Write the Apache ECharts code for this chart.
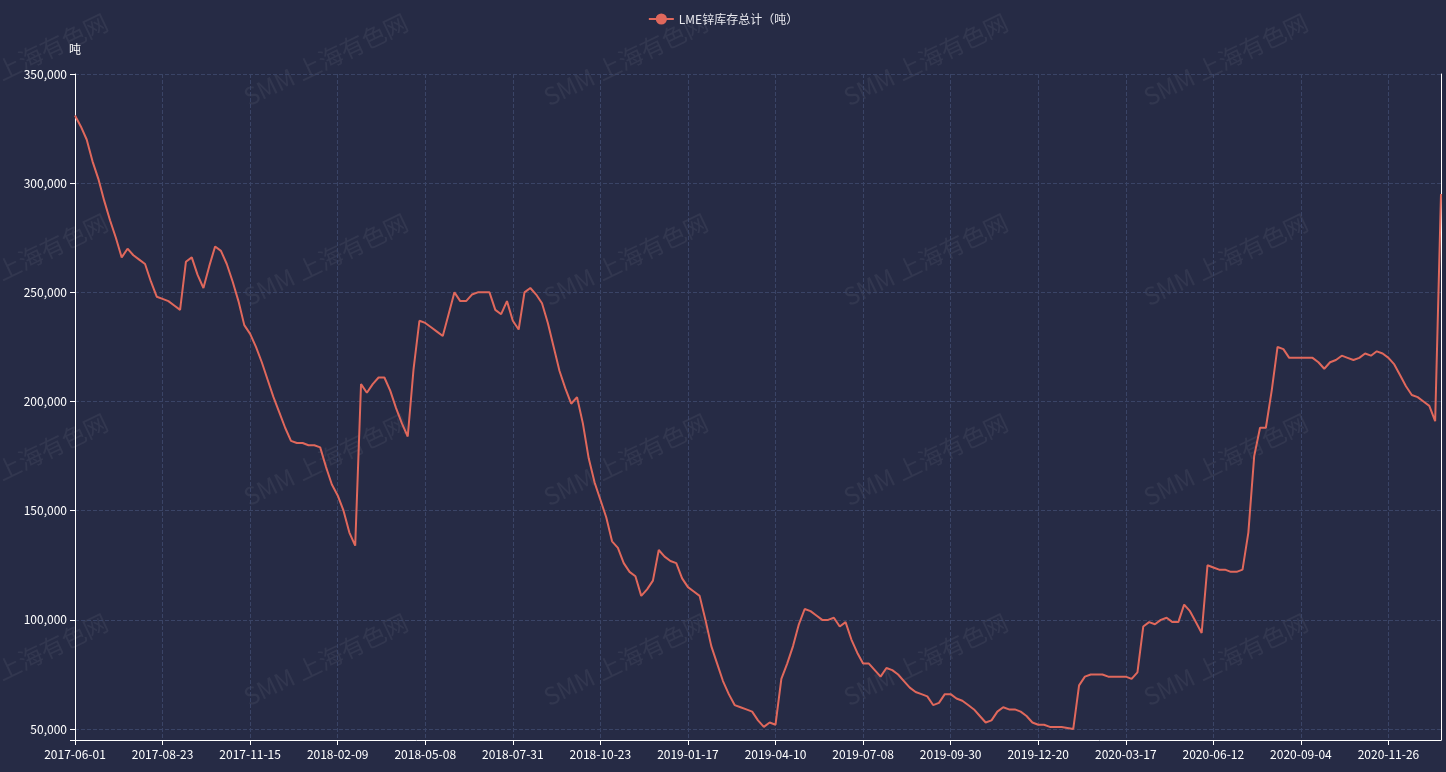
<!DOCTYPE html>
<html><head><meta charset="utf-8">
<script src="https://cdn.jsdelivr.net/npm/echarts@6/dist/echarts.min.js"></script>
<style>html,body{margin:0;padding:0;background:#262b45}#c{width:1446px;height:772px}</style>
</head><body><div id="c"></div>
<script>
const tickLabels=['2017-06-01','2017-08-23','2017-11-15','2018-02-09','2018-05-08','2018-07-31','2018-10-23','2019-01-17','2019-04-10','2019-07-08','2019-09-30','2019-12-20','2020-03-17','2020-06-12','2020-09-04','2020-11-26'];
const zincStock=[
331,326,320,310,302,292,283,275,266,270,267,265,263,255,248,
247,246,244,242,264,266,258,252,262,271,269,263,255,246,235,
231,225,218,210,202,195,188,182,181,181,180,180,179,170,162,
157,150,140,134,208,204,208,211,211,205,197,190,184,215,237,
236,234,232,230,240,250,246,246,249,250,250,250,242,240,246,
237,233,250,252,249,245,236,225,214,206,199,202,190,174,163,
155,147,136,133,126,122,120,111,114,118,132,129,127,126,119,
115,113,111,100,88,80,72,66,61,60,59,58,54,51,53,
52,73,80,88,98,105,104,102,100,100,101,97,99,91,85,
80,80,77,74,78,77,75,72,69,67,66,65,61,62,66,
66,64,63,61,59,56,53,54,58,60,59,59,58,56,53,
52,52,51,51,51,50.5,50,70,74,75,75,75,74,74,74,
74,73,76,97,99,98,100,101,99,99,107,104,99,94,125,
124,123,123,122,122,123,140,175,188,188,205,225,224,220,220,
220,220,220,218,215,218,219,221,220,219,220,222,221,223,222,
220,217,212,207,203,202,200,198,191,295].map(v=>v*1000);
const STEP=15;
const cats=[];
function d(s){return new Date(s+'T00:00:00Z').getTime();}
for(let i=0;i<zincStock.length;i++){
  const k=Math.floor(i/STEP), r=i%STEP;
  let t;
  if(k<tickLabels.length-1){t=d(tickLabels[k])+(d(tickLabels[k+1])-d(tickLabels[k]))*r/STEP;}
  else{t=d(tickLabels[tickLabels.length-1])+r*6*86400000;}
  cats.push(new Date(t).toISOString().slice(0,10));
}
const wm=[];
for(let yy=-10;yy<700;yy+=200){for(let xx=-60;xx<1400;xx+=300){
  wm.push({type:'text',left:xx,top:yy+20,rotation:Math.PI/7,z:-1,silent:true,
   style:{text:'SMM 上海有色网',fill:'rgba(255,255,255,0.06)',font:'24px "Noto Sans CJK SC"'}});}}
const chart=echarts.init(document.getElementById('c'));
chart.setOption({
  backgroundColor:'#262b45',
  animation:false,
  textStyle:{fontFamily:'"Noto Sans CJK SC", "Noto Sans", sans-serif'},
  graphic:wm,
  legend:{top:8,left:'center',itemWidth:25,itemHeight:14,textStyle:{color:'#e8e8ee',fontSize:12},
    data:['LME锌库存总计（吨）']},
  tooltip:{trigger:'axis'},
  grid:{left:75,right:5,top:74,bottom:32},
  xAxis:{type:'category',boundaryGap:false,data:cats,
    axisLine:{lineStyle:{color:'#ffffff'}},
    axisTick:{interval:STEP-1,lineStyle:{color:'#ffffff'}},
    axisLabel:{interval:STEP-1,color:'#ffffff',fontSize:12,margin:8},
    splitLine:{show:true,interval:STEP-1,lineStyle:{color:'#3a4466',type:'dashed'}}},
  yAxis:[{type:'value',name:'吨',min:45000,max:350000,
    nameTextStyle:{color:'#ffffff',fontSize:12,align:'center',padding:[0,0,4,0]},
    axisLine:{show:true,lineStyle:{color:'#ffffff'}},
    axisTick:{show:true,lineStyle:{color:'#ffffff'}},
    axisLabel:{color:'#ffffff',fontSize:12,formatter:v=>v%50000===0?v.toLocaleString('en-US'):''},
    splitLine:{lineStyle:{color:'#3a4466',type:'dashed'}}},
   {type:'value',position:'right',min:45000,max:350000,axisLine:{show:true,lineStyle:{color:'#ffffff'}},
    axisLabel:{show:false},axisTick:{show:false},splitLine:{show:false}}],
  series:[{name:'LME锌库存总计（吨）',type:'line',data:zincStock,showSymbol:false,symbol:'circle',symbolSize:8,
    itemStyle:{color:'#e0685c'},lineStyle:{color:'#e0685c',width:2}}]
});
</script></body></html>
